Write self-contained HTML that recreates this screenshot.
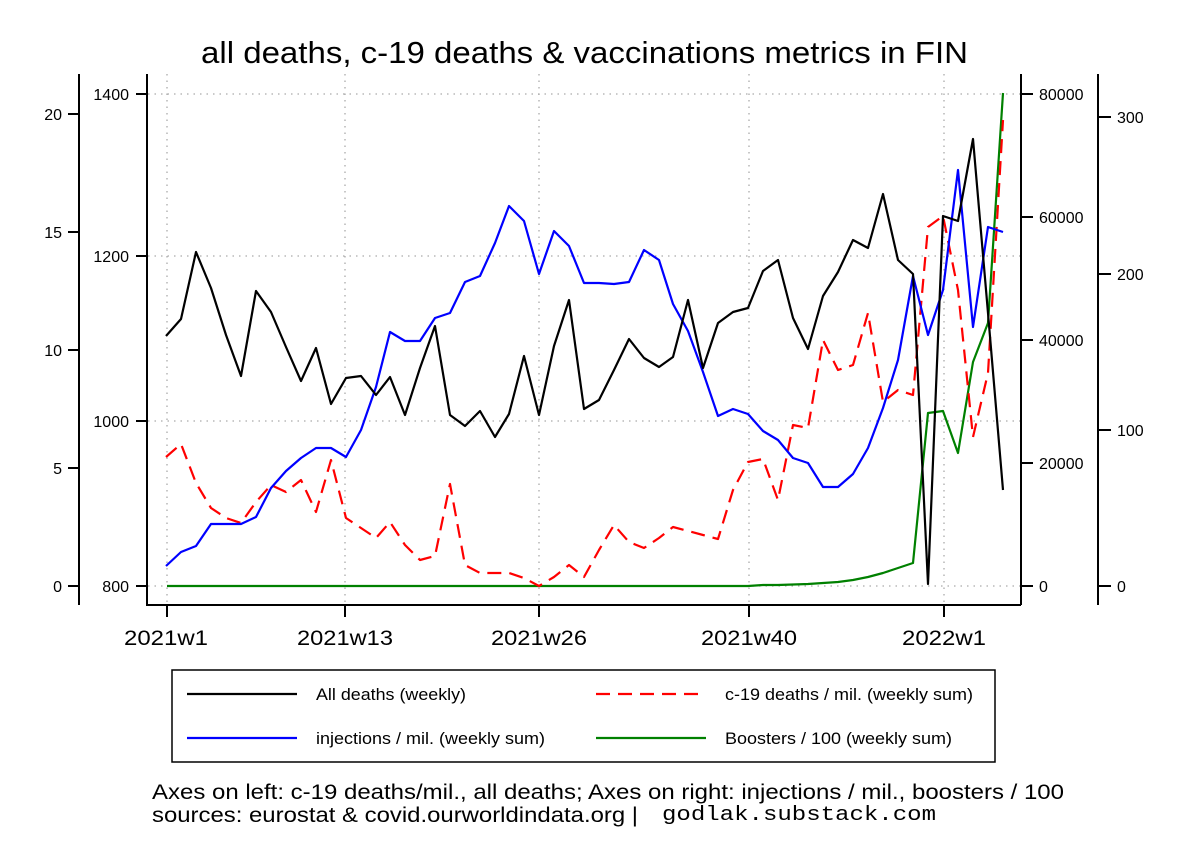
<!DOCTYPE html>
<html><head><meta charset="utf-8"><style>body{margin:0;background:#fff}svg{display:block}</style></head><body>
<svg width="1188" height="864" viewBox="0 0 1188 864" xmlns="http://www.w3.org/2000/svg" font-family="Liberation Sans, Arial, sans-serif">
<rect width="1188" height="864" fill="#fff"/>
<text x="201" y="63" font-size="31" textLength="767" lengthAdjust="spacingAndGlyphs">all deaths, c-19 deaths &amp; vaccinations metrics in FIN</text>
<g stroke="#aaa" stroke-width="1.3" stroke-dasharray="1.5,5" fill="none">
<line x1="148" y1="94" x2="1020" y2="94"/><line x1="148" y1="256" x2="1020" y2="256"/><line x1="148" y1="421" x2="1020" y2="421"/><line x1="148" y1="586" x2="1020" y2="586"/>
<line x1="167" y1="74" x2="167" y2="604"/><line x1="345" y1="74" x2="345" y2="604"/><line x1="539" y1="74" x2="539" y2="604"/><line x1="749" y1="74" x2="749" y2="604"/><line x1="944" y1="74" x2="944" y2="604"/>
</g>
<g stroke="#000" stroke-width="2" fill="none">
<line x1="79" y1="74" x2="79" y2="605"/><line x1="147" y1="74" x2="147" y2="605"/><line x1="146" y1="605" x2="1021" y2="605"/>
<line x1="1021" y1="74" x2="1021" y2="605"/><line x1="1098" y1="74" x2="1098" y2="605"/>
<path d="M68 114H79M68 232H79M68 350H79M68 468H79M68 586H79"/>
<path d="M136 94H147M136 256H147M136 421H147M136 586H147"/>
<path d="M1021 94H1033M1021 217H1033M1021 340H1033M1021 463H1033M1021 586H1033"/>
<path d="M1098 117H1111M1098 274H1111M1098 430H1111M1098 586H1111"/>
<path d="M167 605V617M345 605V617M539 605V617M749 605V617M944 605V617"/>
</g>
<g font-size="16">
<g text-anchor="end"><text x="62" y="120">20</text><text x="62" y="238">15</text><text x="62" y="356">10</text><text x="62" y="474">5</text><text x="62" y="592">0</text>
<text x="129" y="100">1400</text><text x="129" y="262">1200</text><text x="129" y="427">1000</text><text x="129" y="592">800</text></g>
<text x="1039" y="100">80000</text><text x="1039" y="223">60000</text><text x="1039" y="346">40000</text><text x="1039" y="469">20000</text><text x="1039" y="592">0</text>
<text x="1117" y="123">300</text><text x="1117" y="280">200</text><text x="1117" y="436">100</text><text x="1117" y="592">0</text>
</g>
<g font-size="21" text-anchor="middle"><text x="166" y="645" textLength="84" lengthAdjust="spacingAndGlyphs">2021w1</text><text x="345" y="645" textLength="96" lengthAdjust="spacingAndGlyphs">2021w13</text><text x="539" y="645" textLength="96" lengthAdjust="spacingAndGlyphs">2021w26</text><text x="749" y="645" textLength="96" lengthAdjust="spacingAndGlyphs">2021w40</text><text x="944" y="645" textLength="84" lengthAdjust="spacingAndGlyphs">2022w1</text></g>
<g fill="none" stroke-width="2.2" stroke-linejoin="round">
<polyline stroke="#008000" points="167,586 733,586 748,586 763,585 778,585 793,584.5 808,584 823,583 838,582 853,580 868,577 883,573 898,568 913,563 928,413 943,411 958,453 973,362 988,323 1003,93"/>
<polyline stroke="#f00" stroke-dasharray="14,8" points="166,457 181,444 196,483 211,508 226,518 241,523 256,502 271,485 286,492 301,480 316,512 331,460 346,518 361,528 376,538 390,522 405,545 420,560 435,556 450,484 465,565 480,573 495,573 509,573 524,578 539,586 554,577 569,565 584,577 599,550 614,525 629,542 644,548 659,538 673,527 688,531 703,535 718,539 733,490 748,462 763,459 778,500 793,425 808,428 823,340 838,370 853,365 868,313 883,402 898,390 913,395 928,227 943,216 958,290 973,437 988,373 1003,120"/>
<polyline stroke="#00f" points="166,566 181,552 196,546 211,524 226,524 241,524 256,517 271,488 286,471 301,458 316,448 331,448 346,457 361,430 376,387 390,332 405,341 420,341 435,318 450,313 465,282 480,276 495,243 509,206 524,221 539,274 554,231 569,246 584,283 599,283 614,284 629,282 644,250 659,260 673,304 688,331 703,372 718,416 733,409 748,414 763,431 778,440 793,458 808,463 823,487 838,487 853,474 868,448 883,408 898,360 913,276 928,335 943,290 958,170 973,327 988,227 1003,232"/>
<polyline stroke="#000" points="166,336 181,319 196,252 211,288 226,335 241,376 256,291 271,312 286,347 301,381 316,348 331,404 346,378 361,376 376,395 390,377 405,415 420,368 435,326 450,415 465,426 480,411 495,437 509,414 524,356 539,415 554,346 569,300 584,409 599,400 614,370 629,339 644,358 659,367 673,357 688,300 703,368 718,323 733,312 748,308 763,271 778,260 793,318 808,349 823,296 838,272 853,240 868,248 883,194 898,260 913,274 928,584 943,216 958,221 973,139 988,313 1003,490"/>
</g>
<rect x="172" y="670" width="823" height="92" fill="none" stroke="#000" stroke-width="1.5"/>
<g stroke-width="2.2"><line x1="187" y1="694" x2="297" y2="694" stroke="#000"/><line x1="596" y1="694" x2="706" y2="694" stroke="#f00" stroke-dasharray="14,8"/>
<line x1="187" y1="738" x2="297" y2="738" stroke="#00f"/><line x1="596" y1="738" x2="706" y2="738" stroke="#008000"/></g>
<g font-size="17"><text x="316" y="700" textLength="150" lengthAdjust="spacingAndGlyphs">All deaths (weekly)</text><text x="725" y="700" textLength="248" lengthAdjust="spacingAndGlyphs">c-19 deaths / mil. (weekly sum)</text>
<text x="316" y="744" textLength="229" lengthAdjust="spacingAndGlyphs">injections / mil. (weekly sum)</text><text x="725" y="744" textLength="227" lengthAdjust="spacingAndGlyphs">Boosters / 100 (weekly sum)</text></g>
<g font-size="21"><text x="152" y="799" textLength="912" lengthAdjust="spacingAndGlyphs">Axes on left: c-19 deaths/mil., all deaths; Axes on right: injections / mil., boosters / 100</text>
<text x="152" y="822" textLength="486" lengthAdjust="spacingAndGlyphs">sources: eurostat &amp; covid.ourworldindata.org |</text>
<text x="662" y="820" font-size="20" font-family="Liberation Mono, monospace" textLength="274" lengthAdjust="spacingAndGlyphs">godlak.substack.com</text></g>
</svg>
</body></html>
